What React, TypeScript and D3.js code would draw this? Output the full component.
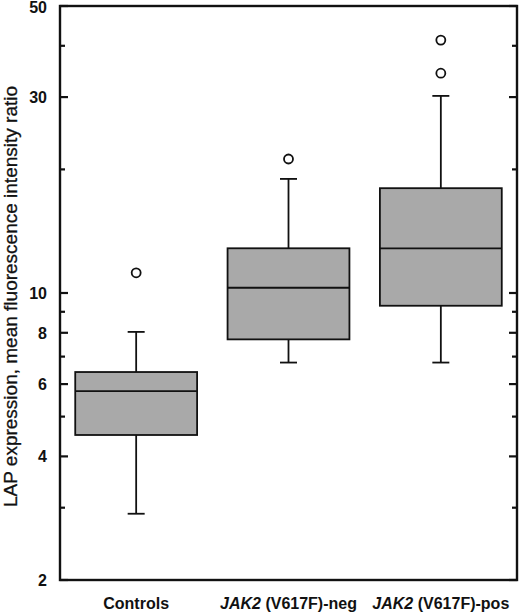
import React from "react";
import * as d3 from "d3";

const categories = ["Controls", "JAK2 (V617F)-neg", "JAK2 (V617F)-pos"];
const whiskerLow = [2.9, 6.77, 6.77];
const q1 = [4.51, 7.71, 9.31];
const median = [5.77, 10.3, 12.85];
const q3 = [6.42, 12.85, 18.0];
const whiskerHigh = [8.04, 18.96, 30.2];
const outliers = [[11.2], [21.2], [34.3, 41.3]];
const majorTicks = [2, 4, 6, 8, 10, 30, 50];
const minorTicks = [3, 5, 7, 9, 20, 40];

const W = 520;
const H = 612;
const left = 60;
const right = 517;
const top = 6;
const bottom = 580;
const font = "'Liberation Sans', Arial, Helvetica, sans-serif";

export default function App() {
  const y = d3.scaleLog().domain([2, 50]).range([bottom, top]);
  const x = d3
    .scaleBand<string>()
    .domain(categories)
    .range([left, right])
    .paddingInner(0.2)
    .paddingOuter(0.1);
  const bw = x.bandwidth();
  const capW = 17;

  return (
    <svg
      width={W}
      height={H}
      style={{ position: "absolute", left: 0, top: 0, background: "#fff" }}
      fontFamily={font}
    >
      {/* boxes */}
      {categories.map((c, i) => {
        const x0 = x(c)!;
        const cx = x0 + bw / 2;
        return (
          <g key={c} stroke="#111" strokeWidth={1.8}>
            <line x1={cx} x2={cx} y1={y(q3[i])} y2={y(whiskerHigh[i])} />
            <line x1={cx} x2={cx} y1={y(q1[i])} y2={y(whiskerLow[i])} />
            <line x1={cx - capW / 2} x2={cx + capW / 2} y1={y(whiskerHigh[i])} y2={y(whiskerHigh[i])} />
            <line x1={cx - capW / 2} x2={cx + capW / 2} y1={y(whiskerLow[i])} y2={y(whiskerLow[i])} />
            <rect
              x={x0}
              y={y(q3[i])}
              width={bw}
              height={y(q1[i]) - y(q3[i])}
              fill="#a9a9a9"
            />
            <line x1={x0} x2={x0 + bw} y1={y(median[i])} y2={y(median[i])} />
            {outliers[i].map((v, j) => (
              <circle key={j} cx={cx} cy={y(v)} r={4.5} fill="#fff" />
            ))}
          </g>
        );
      })}
      {/* frame */}
      <rect
        x={left}
        y={top}
        width={right - left}
        height={bottom - top}
        fill="none"
        stroke="#111"
        strokeWidth={2.4}
      />
      {/* ticks */}
      <g stroke="#111" strokeWidth={2.2}>
        {majorTicks.map((t) => (
          <g key={"M" + t}>
            <line x1={left} x2={left + 8} y1={y(t)} y2={y(t)} />
            <line x1={right} x2={right - 8} y1={y(t)} y2={y(t)} />
          </g>
        ))}
        {minorTicks.map((t) => (
          <g key={"m" + t}>
            <line x1={left} x2={left + 5} y1={y(t)} y2={y(t)} />
            <line x1={right} x2={right - 5} y1={y(t)} y2={y(t)} />
          </g>
        ))}
      </g>
      {/* tick labels */}
      {majorTicks.map((t) => (
        <text
          key={"l" + t}
          x={47}
          y={Math.max(y(t), 7)}
          dy="0.36em"
          textAnchor="end"
          fontSize={16}
          fontWeight="bold"
          fill="#111"
        >
          {t}
        </text>
      ))}
      {/* y-axis title */}
      <text
        transform={`translate(17,${(85 + 508) / 2}) rotate(-90)`}
        textAnchor="middle"
        fontSize={19}
        fill="#111"
        stroke="#111"
        strokeWidth={0.3}
      >
        LAP expression, mean fluorescence intensity ratio
      </text>
      {/* x labels */}
      {categories.map((c) => {
        const cx = x(c)! + bw / 2;
        const m = c.match(/^(JAK2)(.*)$/);
        return (
          <text
            key={"x" + c}
            x={cx}
            y={609}
            textAnchor="middle"
            fontSize={16}
            fontWeight="bold"
            fill="#111"
          >
            {m ? (
              <>
                <tspan fontStyle="italic">{m[1]}</tspan>
                <tspan>{m[2]}</tspan>
              </>
            ) : (
              c
            )}
          </text>
        );
      })}
    </svg>
  );
}
